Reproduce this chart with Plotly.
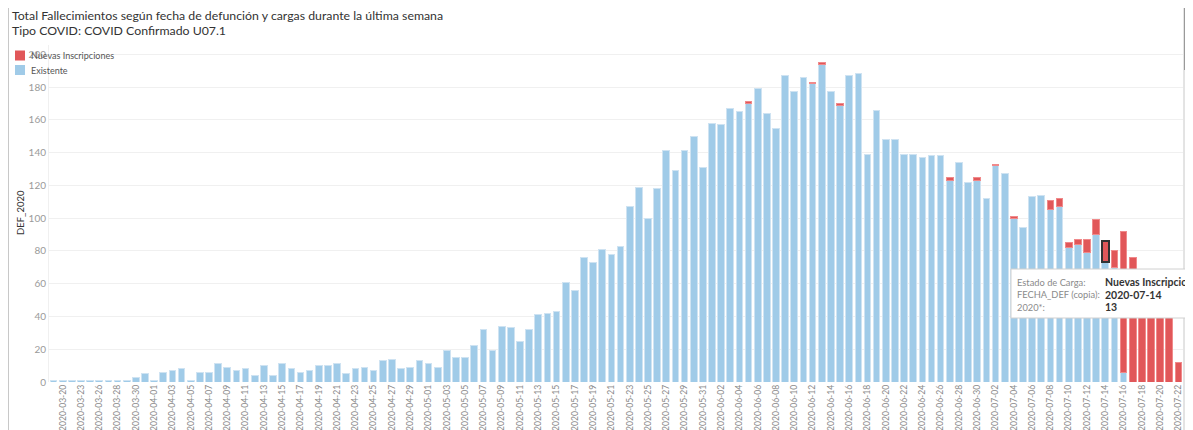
import pandas as pd
import plotly.graph_objects as go

# Colours taken from the Tableau palette used in the original dashboard
BLUE = "#a0cbe8"
RED = "#e15759"
GRID = "#f0f0f0"

# Dates shown on the category axis (early March has gaps, then every day)
early_dates = ["2020-03-16", "2020-03-20", "2020-03-22", "2020-03-23",
               "2020-03-24", "2020-03-26", "2020-03-27"]
daily_dates = [d.strftime("%Y-%m-%d") for d in pd.date_range("2020-03-28", "2020-07-22")]
fechas = early_dates + daily_dates

# Deaths already loaded ("Existente")
existente = [
    1, 1, 1, 1, 1, 1, 1, 1, 1, 3, 5, 1, 6, 7, 8, 1, 6, 6, 11, 9,
    7, 8, 4, 10, 4, 11, 8, 6, 7, 10, 10, 11, 5, 8, 9, 7, 13, 14, 8, 9,
    13, 11, 9, 19, 15, 15, 22, 32, 19, 34, 33, 25, 32, 41, 42, 43, 61, 56, 76, 73,
    81, 78, 83, 107, 119, 100, 118, 141, 129, 141, 150, 131, 158, 157, 167, 165, 170, 179, 164, 155,
    187, 177, 186, 182, 194, 177, 169, 187, 188, 139, 166, 148, 148, 139, 139, 137, 138, 138, 123, 134,
    122, 123, 112, 132, 127, 100, 94, 113, 114, 105, 107, 82, 84, 79, 90, 73, 70, 6, 0, 0,
    0, 0, 0, 0,
]

# New registrations added during the last week ("Nuevas Inscripciones")
nuevas = [
    0, 0, 0, 0, 0, 0, 0, 0, 0, 0, 0, 0, 0, 0, 0, 0, 0, 0, 0, 0,
    0, 0, 0, 0, 0, 0, 0, 0, 0, 0, 0, 0, 0, 0, 0, 0, 0, 0, 0, 0,
    0, 0, 0, 0, 0, 0, 0, 0, 0, 0, 0, 0, 0, 0, 0, 0, 0, 0, 0, 0,
    0, 0, 0, 0, 0, 0, 0, 0, 0, 0, 0, 0, 0, 0, 0, 0, 1, 0, 0, 0,
    0, 0, 0, 1, 1, 0, 1, 0, 0, 0, 0, 0, 0, 0, 0, 0, 0, 0, 2, 0,
    0, 2, 0, 1, 0, 1, 0, 0, 0, 6, 5, 3, 3, 8, 9, 13, 10, 86, 76, 60,
    58, 52, 48, 12,
]

y_ticks = list(range(0, 201, 20))
selected = "2020-07-14"

# The page body has an 8px margin, so the figure starts 8px in from the window corner
OFF = 8
W, H = 1193 - OFF, 430 - OFF
L, R, T, B = 41, 10, 37, 48
PW, PH = W - L - R, H - T - B


def px(sx):
    # screen pixel x -> paper x
    return (sx - OFF - L) / PW


def py(sy):
    # screen pixel y (from top) -> paper y
    return (H - B - (sy - OFF)) / PH


def label(text, x, y, size, color, anchor="left"):
    fig.add_annotation(text=text, x=px(x), y=py(y), xref="paper", yref="paper",
                       xanchor=anchor, yanchor="middle", showarrow=False,
                       font=dict(size=size, color=color))


fig = go.Figure()

fig.add_trace(go.Bar(
    x=fechas,
    y=existente,
    name="Existente",
    marker=dict(color=BLUE, line=dict(color="#cfe3f2", width=1)),
))

# Dark outline on the selected (hovered) bar, no outline on empty segments
red_line_color = ["#333333" if f == selected else "#f08a8b" for f in fechas]
red_line_width = [2 if f == selected else (1 if v > 0 else 0) for f, v in zip(fechas, nuevas)]

fig.add_trace(go.Bar(
    x=fechas,
    y=nuevas,
    name="Nuevas Inscripciones",
    marker=dict(color=RED, line=dict(color=red_line_color, width=red_line_width)),
))

fig.update_layout(
    width=W,
    height=H,
    barmode="stack",
    bargap=0.27,
    showlegend=False,
    paper_bgcolor="white",
    plot_bgcolor="white",
    font=dict(family="Lato, sans-serif", color="#555555"),
    margin=dict(l=L, r=R, t=T, b=B, autoexpand=False),
)

fig.update_xaxes(
    type="category",
    tickmode="array",
    tickvals=fechas[1::2],
    ticktext=fechas[1::2],
    tickangle=-90,
    tickfont=dict(size=8.6, color="#8a8a8a"),
    showgrid=False,
    showline=False,
    ticks="",
    automargin=False,
)

fig.update_yaxes(
    range=[0, PH / 1.6385],
    tickvals=y_ticks,
    tickfont=dict(size=10, color="#9a9a9a"),
    gridcolor=GRID,
    zeroline=False,
    showline=True,
    linecolor=GRID,
    ticks="",
    automargin=False,
)

# Title (two lines)
label("Total Fallecimientos según fecha de defunción y cargas durante la última semana",
      10, 15, 12.3, "#333333")
label("Tipo COVID: COVID Confirmado U07.1", 10, 31, 12.3, "#333333")

# Y axis title
fig.add_annotation(
    text="DEF_2020", textangle=-90,
    x=px(20), y=py(213), xref="paper", yref="paper",
    xanchor="center", yanchor="middle",
    showarrow=False, font=dict(size=9.5, color="#333333"),
)

# Legend drawn by hand so it sits where Tableau puts it
legend_items = [("Nuevas Inscripciones", RED, 55.5), ("Existente", BLUE, 70)]
for name, color, yc in legend_items:
    fig.add_shape(type="rect", xref="paper", yref="paper",
                  x0=px(15), x1=px(25), y0=py(yc - 5), y1=py(yc + 5),
                  fillcolor=color, line=dict(width=0))
    label(name, 29, yc, 9, "#555555")

# Dashboard frame and scroll bar
fig.add_shape(type="line", xref="paper", yref="paper",
              x0=px(8.5), x1=px(8.5), y0=py(8), y1=py(440),
              line=dict(color="#c8c8c8", width=1))
fig.add_shape(type="line", xref="paper", yref="paper",
              x0=px(1184), x1=px(1184), y0=py(8), y1=py(440),
              line=dict(color="#c8c8c8", width=1))
fig.add_shape(type="rect", xref="paper", yref="paper",
              x0=px(1184), x1=px(1188), y0=py(8), y1=py(70),
              line=dict(width=0), fillcolor="#9a9a9a")

# Tooltip for the selected bar
fig.add_shape(type="rect", xref="paper", yref="paper",
              x0=px(1011), x1=px(1200), y0=py(269), y1=py(318),
              fillcolor="white", line=dict(color="#d0d0d0", width=1))
tooltip_rows = [("Estado de Carga:", "Nuevas Inscripciones", 282),
                ("FECHA_DEF (copia):", selected, 294.5),
                ("2020*:", str(nuevas[fechas.index(selected)]), 307)]
for key, val, yc in tooltip_rows:
    label(key, 1015, yc, 9.3, "#8a8a8a")
    label("<b>" + val + "</b>", 1103, yc, 10.5, "#333333")

fig.write_html("out.html")
